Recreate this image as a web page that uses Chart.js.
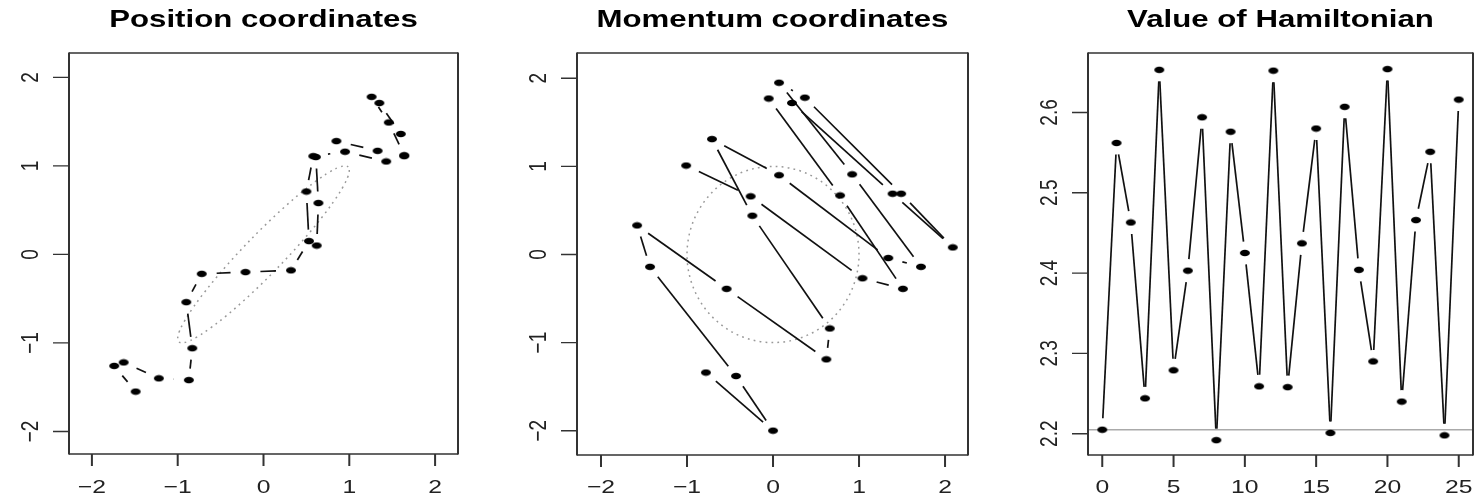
<!DOCTYPE html>
<html><head><meta charset="utf-8">
<script src="https://cdn.jsdelivr.net/npm/chart.js@4/dist/chart.umd.min.js"></script>
<style>
html,body{margin:0;padding:0;background:#fff;width:1479px;height:497px;overflow:hidden}
canvas{position:absolute;left:0;top:0}
</style></head><body>
<canvas id="c1" width="1479" height="497"></canvas>
<canvas id="c2" width="1479" height="497"></canvas>
<canvas id="c3" width="1479" height="497"></canvas>
<script>
// ---------- data ----------
const steps = [0,1,2,3,4,5,6,7,8,9,10,11,12,13,14,15,16,17,18,19,20,21,22,23,24,25];
const posX = [-1.49,-1.74,-1.63,-1.22,-0.87,-0.83,-0.90,-0.72,-0.21,0.32,0.53,0.50,0.58,0.95,1.43,1.64,1.46,1.26,1.35,1.60,1.64,1.33,0.85,0.61,0.64,0.62];
const posY = [-1.55,-1.26,-1.22,-1.40,-1.42,-1.06,-0.54,-0.22,-0.20,-0.18,0.15,0.71,1.11,1.16,1.05,1.12,1.49,1.78,1.71,1.36,1.11,1.17,1.28,1.10,0.58,0.10];
const momX = [-1.01,-0.26,1.04,1.51,0.78,-0.05,0.22,1.39,2.09,1.49,0.37,0.07,0.92,1.72,1.34,0.07,-0.71,-0.24,0.66,0.62,-0.54,-1.58,-1.43,-0.43,0.00,-0.78];
const momY = [1.01,0.66,-0.27,-0.39,0.67,1.77,1.72,0.69,0.08,0.69,1.78,1.95,0.91,-0.14,-0.04,0.90,1.31,0.44,-0.84,-1.19,-0.39,0.33,-0.14,-1.38,-2.00,-1.34];
const hamiltonian = [2.205,2.562,2.463,2.244,2.653,2.279,2.403,2.594,2.192,2.576,2.425,2.259,2.652,2.258,2.437,2.580,2.201,2.607,2.404,2.290,2.654,2.240,2.466,2.551,2.198,2.616];

const coordTicks = [-2,-1,0,1,2];
const coordTickLabels = ['\u22122','\u22121','0','1','2'];
const stepTicks = [0,5,10,15,20,25];
const stepTickLabels = ['0','5','10','15','20','25'];
const hamTicks = [2.2,2.3,2.4,2.5,2.6];
const hamTickLabels = ['2.2','2.3','2.4','2.5','2.6'];
const titles = ['Position coordinates','Momentum coordinates','Value of Hamiltonian'];
const contourRho = 0.95;   // correlation of the Gaussian whose 1-sd contour is dotted
const momentumRadius = 1;  // 1-sd contour of momentum

// ---------- style ----------
const W = 1479, H = 497;
const STRETCH = 1.3;
const areas = [
  {left:69, right:458, top:53, bottom:454},
  {left:577, right:968, top:53, bottom:455},
  {left:1088, right:1477, top:53, bottom:455}
];

const dot = document.createElement('canvas');
dot.width = 12; dot.height = 8;
(function(){const c=dot.getContext('2d');c.fillStyle='#000';c.beginPath();c.ellipse(6,4,5,3.3,0,0,Math.PI*2);c.fill();})();

function stretchedText(ctx, text, x, y, font, sx, rot, align, color){
  ctx.save();
  ctx.translate(x,y);
  ctx.scale(sx,1);
  if (rot) ctx.rotate(rot);
  ctx.font = font;
  ctx.fillStyle = color;
  ctx.textAlign = align;
  ctx.textBaseline = 'alphabetic';
  ctx.fillText(text,0,0);
  ctx.restore();
}

function framePlugin(idx, xt, xl, yt, yl){
  return {
    id:'frame'+idx,
    afterDraw(chart){
      const ctx = chart.ctx, a = chart.chartArea;
      const xs = chart.scales.x, ys = chart.scales.y;
      ctx.save();
      ctx.strokeStyle = '#333';
      // box
      ctx.lineWidth = 1.3;
      ctx.beginPath();
      ctx.moveTo(a.left,a.top); ctx.lineTo(a.right,a.top);
      ctx.moveTo(a.left,a.bottom); ctx.lineTo(a.right,a.bottom);
      ctx.stroke();
      ctx.lineWidth = 2;
      ctx.beginPath();
      ctx.moveTo(a.left,a.top-0.6); ctx.lineTo(a.left,a.bottom+0.6);
      ctx.moveTo(a.right,a.top-0.6); ctx.lineTo(a.right,a.bottom+0.6);
      ctx.stroke();
      // x ticks
      ctx.lineWidth = 2;
      ctx.beginPath();
      xt.forEach(v=>{const px=xs.getPixelForValue(v);ctx.moveTo(px,a.bottom);ctx.lineTo(px,a.bottom+12);});
      ctx.stroke();
      // y ticks
      ctx.lineWidth = 1.4;
      ctx.beginPath();
      yt.forEach(v=>{const py=ys.getPixelForValue(v);ctx.moveTo(a.left-16,py);ctx.lineTo(a.left,py);});
      ctx.stroke();
      ctx.restore();
      xt.forEach((v,i)=>stretchedText(ctx,xl[i],xs.getPixelForValue(v),492.5,'19px "Liberation Sans", Arial, sans-serif',STRETCH,0,'center','#222'));
      yt.forEach((v,i)=>stretchedText(ctx,yl[i],a.left-31.5,ys.getPixelForValue(v),'19px "Liberation Sans", Arial, sans-serif',STRETCH,-Math.PI/2,'center','#222'));
      stretchedText(ctx,titles[idx],(a.left+a.right)/2,26.5,'bold 24px "Liberation Sans", Arial, sans-serif',STRETCH,0,'center','#000');
    }
  };
}

function connectorPlugin(idx, extra){
  return {
    id:'conn'+idx,
    beforeDatasetsDraw(chart){
      const ctx = chart.ctx;
      ctx.save();
      ctx.beginPath();
      ctx.rect(chart.chartArea.left,chart.chartArea.top,chart.chartArea.right-chart.chartArea.left,chart.chartArea.bottom-chart.chartArea.top);
      ctx.clip();
      if (extra) extra(chart, ctx);
      const pts = chart.getDatasetMeta(0).data;
      const gap = 11.5;
      ctx.setLineDash([]);
      ctx.strokeStyle = '#111';
      ctx.lineWidth = 1.7;
      for (let i=0;i<pts.length-1;i++){
        const p=pts[i], q=pts[i+1];
        const dx=q.x-p.x, dy=q.y-p.y;
        const L=Math.hypot(dx/STRETCH, dy);
        if (L <= 2*gap) continue;
        const f=gap/L;
        ctx.beginPath();
        ctx.moveTo(p.x+dx*f,p.y+dy*f);
        ctx.lineTo(q.x-dx*f,q.y-dy*f);
        ctx.stroke();
      }
      ctx.restore();
    }
  };
}

function contour(a, b, angle){
  return function(chart, ctx){
    const xs=chart.scales.x, ys=chart.scales.y;
    const cx=xs.getPixelForValue(0), cy=ys.getPixelForValue(0);
    const sx=xs.getPixelForValue(1)-cx, sy=ys.getPixelForValue(1)-cy;
    ctx.save();
    ctx.translate(cx,cy);
    ctx.transform(sx,0,0,sy,0,0);
    ctx.rotate(angle);
    ctx.beginPath();
    ctx.ellipse(0,0,a,b,0,0,Math.PI*2);
    ctx.restore();
    ctx.save();
    ctx.strokeStyle='#999';
    ctx.lineWidth=1.5;
    ctx.setLineDash([1.8,4.2]);
    ctx.stroke();
    ctx.restore();
  };
}

function refLine(value){
  return function(chart, ctx){
    const ys=chart.scales.y, a=chart.chartArea;
    const py=ys.getPixelForValue(value);
    ctx.save();
    ctx.strokeStyle='#aaa';
    ctx.lineWidth=1.5;
    ctx.beginPath(); ctx.moveTo(a.left,py); ctx.lineTo(a.right,py); ctx.stroke();
    ctx.restore();
  };
}

function makeChart(id, idx, xv, yv, xr, yr, xt, xl, yt, yl, extra){
  const ar = areas[idx];
  return new Chart(document.getElementById(id), {
    type:'scatter',
    data:{datasets:[{data:xv.map((x,i)=>({x:x,y:yv[i]})), pointStyle:dot, pointRadius:5, showLine:false, clip:false}]},
    options:{
      responsive:false, animation:false, events:[], devicePixelRatio:1,
      layout:{padding:{left:ar.left, right:W-ar.right, top:ar.top, bottom:H-ar.bottom}},
      plugins:{legend:{display:false}, tooltip:{enabled:false}, title:{display:false}},
      scales:{
        x:{type:'linear', display:false, min:xr[0], max:xr[1]},
        y:{type:'linear', display:false, min:yr[0], max:yr[1]}
      }
    },
    plugins:[connectorPlugin(idx, extra), framePlugin(idx, xt, xl, yt, yl)]
  });
}

makeChart('c1',0,posX,posY,[-2.267,2.267],[-2.255,2.275],coordTicks,coordTickLabels,coordTicks,coordTickLabels,
  contour(Math.sqrt(1+contourRho),Math.sqrt(1-contourRho),Math.PI/4));
makeChart('c2',1,momX,momY,[-2.279,2.267],[-2.276,2.287],coordTicks,coordTickLabels,coordTicks,coordTickLabels,
  contour(momentumRadius,momentumRadius,0));
makeChart('c3',2,steps,hamiltonian,[-1,26],[2.1735,2.674],stepTicks,stepTickLabels,hamTicks,hamTickLabels,
  refLine(hamiltonian[0]));
</script>
</body></html>
